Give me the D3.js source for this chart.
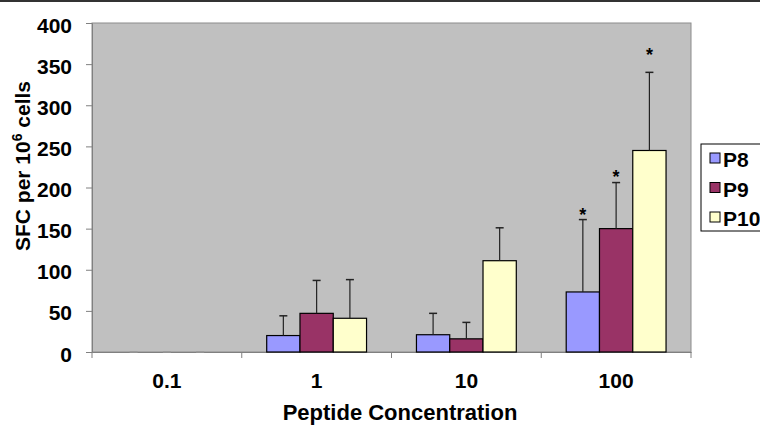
<!DOCTYPE html>
<html>
<head>
<meta charset="utf-8">
<script src="https://cdn.jsdelivr.net/npm/d3@7"></script>
<style>
  body { margin: 0; background: #fff; }
  svg { font-family: "Liberation Sans", Arial, sans-serif; font-weight: bold; }
</style>
</head>
<body>
<div id="chart"></div>
<script>
// concentrations and series
var concentrations = ["0.1", "1", "10", "100"];
var seriesNames = ["P8", "P9", "P10"];
var p8Values = [0, 20, 21, 73];
var p8Errors = [0, 24, 26, 88];
var p9Values = [0, 47, 16, 150];
var p9Errors = [0, 40, 20, 56];
var p10Values = [0, 41, 111, 245];
var p10Errors = [0, 47, 40, 95];
// where the significance stars sit (in SFC units), null = no star
var p8Stars = [null, null, null, 172];
var p9Stars = [null, null, null, 218];
var p10Stars = [null, null, null, 366];
var yTicks = [0, 50, 100, 150, 200, 250, 300, 350, 400];
var colors = ["#9999ff", "#993366", "#ffffcc"];

var values = [p8Values, p9Values, p10Values];
var errors = [p8Errors, p9Errors, p10Errors];
var stars = [p8Stars, p9Stars, p10Stars];

var rows = [];
concentrations.forEach(function (c, i) {
    seriesNames.forEach(function (s, j) {
        rows.push({ conc: c, series: s, value: values[j][i], err: errors[j][i], star: stars[j][i], k: j });
    });
});

var W = 760, H = 427;
var margin = { top: 23, left: 92 },
    width = 691 - 92,
    height = 352 - 23;

var svg = d3.select("#chart").append("svg")
    .attr("width", W)
    .attr("height", H);

// frame line along the top
svg.append("line")
    .attr("x1", 0).attr("x2", W)
    .attr("y1", 1).attr("y2", 1)
    .attr("stroke", "#333").attr("stroke-width", 2);

var canvas = svg.append("g")
    .attr("transform", "translate(" + margin.left + "," + margin.top + ")");

var xScale = d3.scaleBand()
    .domain(concentrations)
    .range([0, width]);

var xInner = d3.scaleBand()
    .domain(seriesNames)
    .range([xScale.bandwidth() / 6, xScale.bandwidth() * 5 / 6]);

var yScale = d3.scaleLinear()
    .domain([0, 400])
    .range([height, 0]);

// plot area
canvas.append("rect")
    .attr("width", width)
    .attr("height", height)
    .attr("fill", "#c0c0c0")
    .attr("stroke", "#8c8c8c")
    .attr("stroke-width", 1);

// y axis
var yAxis = canvas.append("g")
    .call(d3.axisLeft(yScale).tickValues(yTicks).tickSize(6).tickPadding(14));
yAxis.select(".domain").attr("stroke", "#808080");
yAxis.selectAll(".tick line").attr("stroke", "#808080");
yAxis.selectAll("text")
    .attr("font-size", 21)
    .attr("font-family", "Liberation Sans, Arial, sans-serif")
    .attr("font-weight", "bold")
    .attr("fill", "#000")
    .attr("dy", "0.43em");

// x axis: ticks sit on category boundaries
var xAxis = canvas.append("g")
    .attr("transform", "translate(0," + height + ")")
    .call(d3.axisBottom(xScale).tickSize(0).tickPadding(21));
xAxis.select(".domain").attr("stroke", "#808080");
xAxis.selectAll("text")
    .attr("font-size", 21)
    .attr("font-family", "Liberation Sans, Arial, sans-serif")
    .attr("font-weight", "bold")
    .attr("fill", "#000");

canvas.append("g")
    .selectAll("line")
    .data(concentrations.concat(["end"]))
    .enter()
    .append("line")
    .attr("x1", function (d, i) { return i * xScale.step(); })
    .attr("x2", function (d, i) { return i * xScale.step(); })
    .attr("y1", height)
    .attr("y2", height + 6)
    .attr("stroke", "#808080");

// bars
var bar = canvas.selectAll(".bar")
    .data(rows)
    .enter()
    .append("g")
    .attr("class", "bar")
    .attr("transform", function (d) {
        return "translate(" + (xScale(d.conc) + xInner(d.series)) + ",0)";
    });

bar.filter(function (d) { return d.value > 0; })
    .append("rect")
    .attr("width", xInner.bandwidth())
    .attr("y", function (d) { return yScale(d.value); })
    .attr("height", function (d) { return height - yScale(d.value); })
    .attr("fill", function (d) { return colors[d.k]; })
    .attr("stroke", "#000")
    .attr("stroke-width", 1.2);

// error bars (upper half only)
var cx = xInner.bandwidth() / 2;
bar.append("line")
    .attr("x1", cx).attr("x2", cx)
    .attr("y1", function (d) { return yScale(d.value); })
    .attr("y2", function (d) { return yScale(d.value + d.err); })
    .attr("stroke", "#222").attr("stroke-width", 1.2);

bar.append("line")
    .attr("x1", cx - 4).attr("x2", cx + 4)
    .attr("y1", function (d) { return yScale(d.value + d.err); })
    .attr("y2", function (d) { return yScale(d.value + d.err); })
    .attr("stroke", function (d) { return d.err > 0 ? "#222" : "#999"; })
    .attr("stroke-width", 1.5);

bar.filter(function (d) { return d.star !== null; })
    .append("text")
    .attr("x", cx)
    .attr("y", function (d) { return yScale(d.star) + 10; })
    .attr("text-anchor", "middle")
    .attr("font-size", 18)
    .text("*");

// axis titles
svg.append("text")
    .attr("x", 400)
    .attr("y", 420)
    .attr("text-anchor", "middle")
    .attr("font-size", 22)
    .text("Peptide Concentration");

var yTitle = svg.append("text")
    .attr("transform", "translate(30,166) rotate(-90)")
    .attr("text-anchor", "middle")
    .attr("font-size", 21);
yTitle.append("tspan").text("SFC per 10");
yTitle.append("tspan").attr("dy", -8).attr("font-size", 14).text("6");
yTitle.append("tspan").attr("dy", 8).text(" cells");

// legend
var legend = svg.append("g")
    .attr("transform", "translate(701,144)");

legend.append("rect")
    .attr("width", 80)
    .attr("height", 87)
    .attr("fill", "#fff")
    .attr("stroke", "#000")
    .attr("stroke-width", 1);

var item = legend.selectAll(".item")
    .data(seriesNames)
    .enter()
    .append("g")
    .attr("transform", function (d, i) { return "translate(9," + (9 + i * 29.5) + ")"; });

item.append("rect")
    .attr("width", 10)
    .attr("height", 10)
    .attr("fill", function (d, i) { return colors[i]; })
    .attr("stroke", "#000");

item.append("text")
    .attr("x", 13)
    .attr("y", 14)
    .attr("font-size", 21)
    .text(function (d) { return d; });
</script>
</body>
</html>
